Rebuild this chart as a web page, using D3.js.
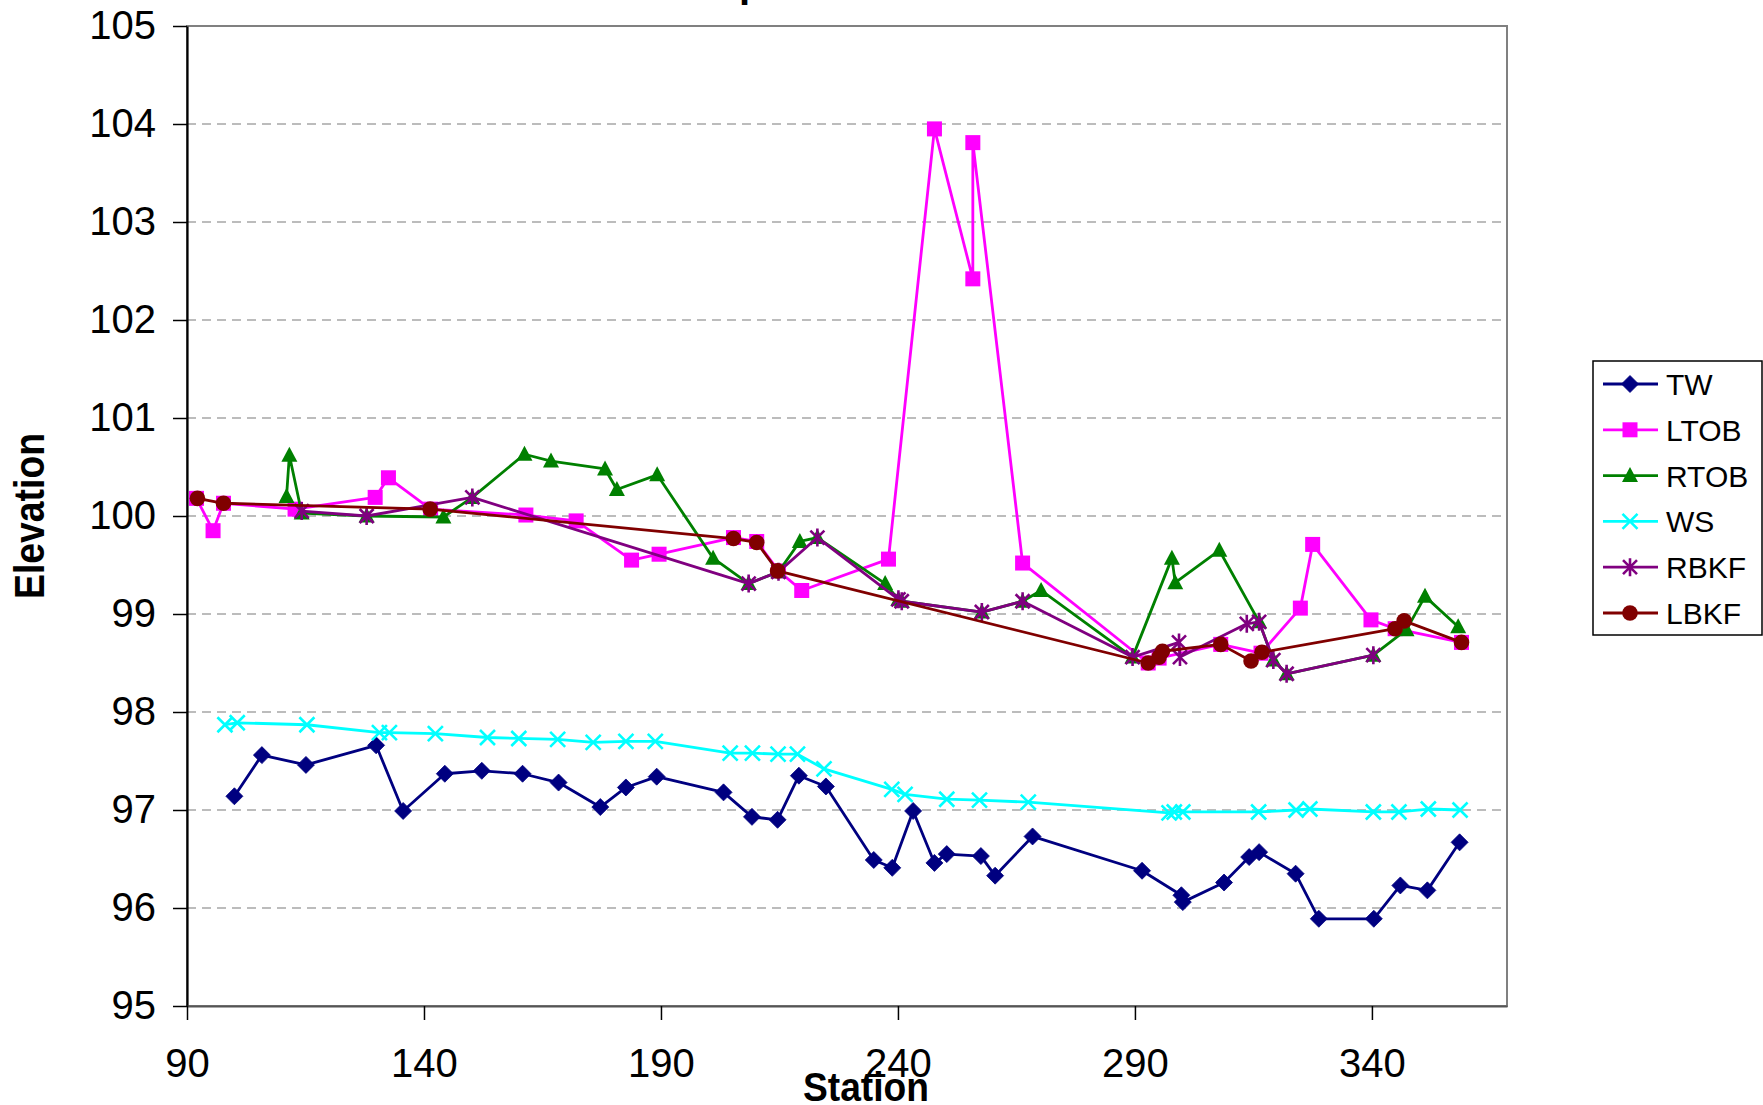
<!DOCTYPE html>
<html><head><meta charset="utf-8">
<script src="https://cdn.jsdelivr.net/npm/d3@7"></script>
<style>html,body{margin:0;padding:0;background:#fff;overflow:hidden}</style>
</head><body>
<svg id="c" width="1763" height="1105"></svg>
<script>
// ---------- data ----------
const yTicks = [95,96,97,98,99,100,101,102,103,104,105];
const xTicks = [90,140,190,240,290,340];
const seriesNames = ["TW","LTOB","RTOB","WS","RBKF","LBKF"];

const twStation = [100.0,105.8,115.1,129.9,135.6,144.4,152.2,160.8,168.4,177.2,182.6,189.1,203.2,209.2,214.6,219.1,224.8,234.9,238.8,243.2,247.7,250.3,257.5,260.5,268.4,291.5,299.8,300.1,308.8,314.1,316.2,323.9,328.8,340.4,346.0,351.7,358.5];
const twElev    = [97.14,97.56,97.46,97.66,96.99,97.37,97.40,97.37,97.28,97.03,97.23,97.34,97.18,96.93,96.90,97.35,97.24,96.49,96.41,96.99,96.46,96.55,96.53,96.33,96.73,96.38,96.13,96.06,96.26,96.52,96.57,96.35,95.89,95.89,96.23,96.18,96.67];

const ltobStation = [92.0,95.5,97.7,112.8,129.7,132.5,141.4,161.5,172.1,183.8,189.6,205.3,210.2,214.8,219.7,238.0,247.7,255.8,255.8,266.3,292.8,295.1,308.1,316.6,324.9,327.5,339.8,344.9,358.9];
const ltobElev    = [100.18,99.85,100.13,100.07,100.19,100.39,100.07,100.01,99.95,99.55,99.61,99.78,99.74,99.44,99.24,99.56,103.95,102.42,103.81,99.52,98.50,98.55,98.69,98.60,99.06,99.71,98.94,98.85,98.71];

const rtobStation = [111.0,111.6,114.2,127.9,144.1,150.2,161.2,166.8,178.2,180.7,189.2,201.0,208.5,214.8,219.3,223.0,237.3,240.1,240.8,257.7,266.3,270.2,289.5,297.8,298.5,307.8,316.2,319.2,322.0,340.3,347.3,351.2,358.2];
const rtobElev    = [100.20,100.62,100.03,100.00,99.99,100.19,100.63,100.56,100.48,100.27,100.42,99.57,99.31,99.43,99.74,99.78,99.31,99.15,99.13,99.02,99.13,99.24,98.56,99.57,99.32,99.65,98.92,98.53,98.39,98.58,98.84,99.18,98.87];

const wsStation = [98.0,100.6,115.3,130.6,132.7,142.4,153.4,160.0,168.2,175.7,182.6,188.8,204.6,209.3,214.7,218.8,224.4,238.7,241.5,250.3,257.2,267.5,297.2,298.3,300.1,316.1,324.0,326.9,340.3,345.7,351.9,358.6];
const wsElev    = [97.87,97.89,97.87,97.79,97.79,97.78,97.74,97.73,97.72,97.69,97.70,97.70,97.58,97.58,97.57,97.57,97.42,97.21,97.16,97.11,97.10,97.08,96.97,96.98,96.98,96.98,97.00,97.01,96.98,96.98,97.01,97.00];

const rbkfStation = [114.2,127.9,150.2,208.5,214.8,223.0,240.1,240.8,257.7,266.3,289.5,299.3,299.5,313.6,316.2,319.2,322.0,340.3];
const rbkfElev    = [100.05,100.00,100.19,99.31,99.43,99.78,99.15,99.13,99.02,99.13,98.56,98.71,98.56,98.90,98.92,98.53,98.39,98.58];

const lbkfStation = [92.2,97.7,141.3,205.3,210.2,214.6,292.8,295.1,295.8,308.1,314.5,316.8,344.9,346.8,358.9];
const lbkfElev    = [100.18,100.13,100.07,99.77,99.73,99.44,98.50,98.56,98.62,98.69,98.52,98.61,98.85,98.93,98.71];

// ---------- setup ----------
const FONT = '"Liberation Sans", Arial, Helvetica, sans-serif';
const svg = d3.select("#c");
const x = d3.scaleLinear().domain([90,368.5]).range([187,1507]);
const y = d3.scaleLinear().domain([95,105]).range([1006,26]);

const zip = (a,b) => a.map((v,i)=>[v,b[i]]);
const series = [
  {name:seriesNames[0], color:"#000080", marker:"diamond",  pts:zip(twStation,twElev)},
  {name:seriesNames[1], color:"#FF00FF", marker:"square",   pts:zip(ltobStation,ltobElev)},
  {name:seriesNames[2], color:"#008000", marker:"triangle", pts:zip(rtobStation,rtobElev)},
  {name:seriesNames[3], color:"#00FFFF", marker:"x",        pts:zip(wsStation,wsElev)},
  {name:seriesNames[4], color:"#800080", marker:"star",     pts:zip(rbkfStation,rbkfElev)},
  {name:seriesNames[5], color:"#800000", marker:"circle",   pts:zip(lbkfStation,lbkfElev)}
];

// title (mostly above the visible area)
const title = svg.append("text").text("Channel profile")
  .attr("font-family",FONT).attr("font-weight","bold").attr("font-size",40)
  .attr("y",-3.4).attr("x",0).attr("fill","#000");
try {
  const pre = title.node().getSubStringLength(0,8);
  title.attr("x", 741.7 - 2.8 - pre);
} catch(e) { title.attr("x",560); }

// gridlines
svg.append("g").selectAll("line")
  .data(yTicks.filter(v=>v>95 && v<105)).join("line")
  .attr("x1",x.range()[0]).attr("x2",x.range()[1])
  .attr("y1",d=>y(d)).attr("y2",d=>y(d))
  .attr("stroke","#a6a6a6").attr("stroke-width",1.5).attr("stroke-dasharray","9,6");

// plot frame
svg.append("rect").attr("x",187).attr("y",26).attr("width",1320).attr("height",980)
  .attr("fill","none").attr("stroke","#808080").attr("stroke-width",2);

// axes
const gy = svg.append("g").attr("transform","translate(187,0)")
  .call(d3.axisLeft(y).tickValues(yTicks).tickSize(14).tickSizeOuter(0).tickPadding(17).tickFormat(d3.format("d")));
gy.select(".domain").attr("stroke","#000").attr("stroke-width",2.2);
gy.selectAll(".tick line").attr("stroke","#000").attr("stroke-width",1.5);
gy.selectAll("text").attr("font-family",FONT).attr("font-size",40).attr("fill","#000");

const gx = svg.append("g").attr("transform","translate(0,1006)")
  .call(d3.axisBottom(x).tickValues(xTicks).tickSize(14).tickSizeOuter(0).tickPadding(29).tickFormat(d3.format("d")));
gx.select(".domain").attr("stroke","#555").attr("stroke-width",2.2);
gx.selectAll(".tick line").attr("stroke","#000").attr("stroke-width",1.5);
gx.selectAll("text").attr("font-family",FONT).attr("font-size",40).attr("fill","#000");

// axis titles
svg.append("text").text("Station")
  .attr("x",866).attr("y",1101).attr("text-anchor","middle")
  .attr("font-family",FONT).attr("font-weight","bold").attr("font-size",40)
  .attr("textLength",126).attr("lengthAdjust","spacingAndGlyphs");
svg.append("text").text("Elevation")
  .attr("transform","translate(44,516) rotate(-90)").attr("text-anchor","middle")
  .attr("font-family",FONT).attr("font-weight","bold").attr("font-size",42)
  .attr("textLength",166).attr("lengthAdjust","spacingAndGlyphs");

// markers
function drawMarker(g, type, color){
  switch(type){
    case "diamond":
      g.append("path").attr("d","M0,-8.5L8.5,0L0,8.5L-8.5,0Z").attr("fill",color).attr("stroke",color).attr("stroke-width",0.8); break;
    case "square":
      g.append("rect").attr("x",-7.5).attr("y",-7.5).attr("width",15).attr("height",15).attr("fill",color); break;
    case "triangle":
      g.append("path").attr("d","M0,-8.5L8,6.5L-8,6.5Z").attr("fill",color); break;
    case "x":
      g.append("path").attr("d","M-7.5,-7.5L7.5,7.5M-7.5,7.5L7.5,-7.5").attr("stroke",color).attr("stroke-width",2.6).attr("fill","none"); break;
    case "star":
      g.append("path").attr("d","M-7,-7L7,7M-7,7L7,-7M0,-9L0,9").attr("stroke",color).attr("stroke-width",2.6).attr("fill","none"); break;
    case "circle":
      g.append("circle").attr("r",7.8).attr("fill",color); break;
  }
}

const line = d3.line().x(d=>x(d[0])).y(d=>y(d[1]));
series.forEach(s=>{
  const g = svg.append("g");
  g.append("path").datum(s.pts).attr("d",line)
    .attr("fill","none").attr("stroke",s.color).attr("stroke-width",2.8).attr("stroke-linejoin","round");
  g.selectAll("g.m").data(s.pts).join("g").attr("class","m")
    .attr("transform",d=>`translate(${x(d[0])},${y(d[1])})`)
    .each(function(){ drawMarker(d3.select(this), s.marker, s.color); });
});

// legend
const lg = svg.append("g");
lg.append("rect").attr("x",1593).attr("y",361).attr("width",169).attr("height",274)
  .attr("fill","#fff").attr("stroke","#000").attr("stroke-width",1.5);
series.forEach((s,i)=>{
  const yy = 384 + i*45.8;
  const it = lg.append("g");
  it.append("line").attr("x1",1603).attr("x2",1658).attr("y1",yy).attr("y2",yy)
    .attr("stroke",s.color).attr("stroke-width",2.8);
  drawMarker(it.append("g").attr("transform",`translate(1630,${yy})`), s.marker, s.color);
  it.append("text").text(s.name).attr("x",1666).attr("y",yy+11)
    .attr("font-family",FONT).attr("font-size",30).attr("fill","#000");
});
</script>
</body></html>
